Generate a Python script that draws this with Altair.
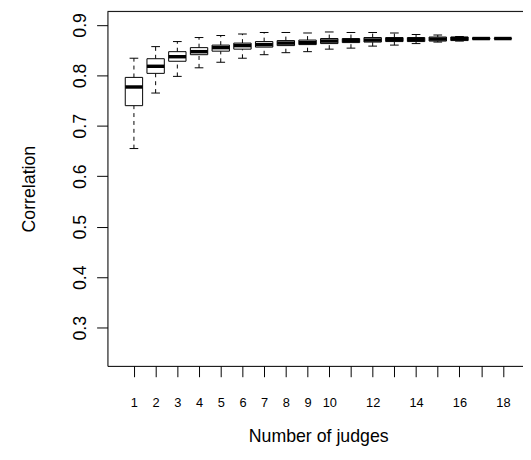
import altair as alt
import pandas as pd

judges = list(range(1, 19))
upper = [0.834, 0.857, 0.867, 0.875, 0.879, 0.882, 0.885, 0.885, 0.884, 0.886,
         0.885, 0.885, 0.884, 0.881, 0.880, 0.877, 0.8745, 0.8735]
q3 = [0.796, 0.833, 0.847, 0.855, 0.860, 0.864, 0.867, 0.869, 0.870, 0.873,
      0.873, 0.875, 0.875, 0.875, 0.876, 0.876, 0.8745, 0.8735]
median = [0.777, 0.818, 0.837, 0.847, 0.855, 0.859, 0.861, 0.864, 0.865, 0.868,
          0.869, 0.870, 0.871, 0.871, 0.872, 0.873, 0.873, 0.873]
q1 = [0.740, 0.804, 0.828, 0.841, 0.848, 0.852, 0.856, 0.859, 0.861, 0.863,
      0.865, 0.866, 0.867, 0.867, 0.868, 0.869, 0.8715, 0.8725]
lower = [0.655, 0.765, 0.798, 0.815, 0.826, 0.834, 0.841, 0.845, 0.847, 0.852,
         0.854, 0.858, 0.860, 0.863, 0.866, 0.868, 0.8715, 0.8725]

x_ticks = list(range(1, 19))
y_ticks = [0.3, 0.4, 0.5, 0.6, 0.7, 0.8, 0.9]

df = pd.DataFrame({"n": judges, "upper": upper, "q3": q3, "median": median,
                   "q1": q1, "lower": lower})
df["box_lo"] = df["n"] - 0.4
df["box_hi"] = df["n"] + 0.4
df["cap_lo"] = df["n"] - 0.2
df["cap_hi"] = df["n"] + 0.2

FONT = "Liberation Sans"
W, H = 422, 360
xscale = alt.Scale(domain=[-0.22, -0.22 + W / 22.04], nice=False, zero=False)
yscale = alt.Scale(domain=[0.2243, 0.9268], nice=False, zero=False)

xaxis = alt.Axis(
    values=x_ticks, tickCount=40, format="d", title="Number of judges", grid=False,
    labelExpr="(datum.value <= 10 || datum.value % 2 == 0) ? datum.label : ''",
    labelOverlap=False,
    tickSize=11, tickColor="black", domainColor="black", tickWidth=1,
    labelFont=FONT, labelFontSize=13, labelColor="black",
    labelPadding=26, labelBaseline="middle", labelFlush=False,
    titleFont=FONT, titleFontSize=18, titleFontWeight="normal", titleColor="black",
    titleX=214, titleY=72, titleBaseline="middle",
)
yaxis = alt.Axis(
    values=y_ticks, tickCount=20, title="Correlation", grid=False, format=".1f",
    labelOverlap=False,
    tickSize=11, tickColor="black", domainColor="black", tickWidth=1,
    labelFont=FONT, labelFontSize=18, labelColor="black",
    labelAngle=270, labelAlign="center", labelBaseline="middle", labelPadding=16,
    titleFont=FONT, titleFontSize=18, titleFontWeight="normal", titleColor="black",
    titleX=-79, titleY=180, titleBaseline="middle", titleAngle=270,
)

base = alt.Chart(df)

whisk_up = base.mark_rule(color="black", strokeWidth=1, strokeDash=[4, 4]).encode(
    x=alt.X("n:Q", scale=xscale, axis=xaxis),
    y=alt.Y("q3:Q", scale=yscale, axis=yaxis),
    y2="upper:Q",
)
whisk_lo = base.mark_rule(color="black", strokeWidth=1, strokeDash=[4, 4]).encode(
    x=alt.X("n:Q", scale=xscale),
    y=alt.Y("lower:Q", scale=yscale),
    y2="q1:Q",
)
cap_up = base.mark_rule(color="black", strokeWidth=1).encode(
    x=alt.X("cap_lo:Q", scale=xscale), x2="cap_hi:Q",
    y=alt.Y("upper:Q", scale=yscale),
)
cap_lo = base.mark_rule(color="black", strokeWidth=1).encode(
    x=alt.X("cap_lo:Q", scale=xscale), x2="cap_hi:Q",
    y=alt.Y("lower:Q", scale=yscale),
)
boxes = base.mark_rect(fill="white", stroke="black", strokeWidth=1).encode(
    x=alt.X("box_lo:Q", scale=xscale), x2="box_hi:Q",
    y=alt.Y("q1:Q", scale=yscale), y2="q3:Q",
)
med = base.mark_rule(color="black", strokeWidth=3.5).encode(
    x=alt.X("box_lo:Q", scale=xscale), x2="box_hi:Q",
    y=alt.Y("median:Q", scale=yscale),
)
top = alt.Chart(pd.DataFrame({"a": [0]})).mark_rule(color="black", strokeWidth=1).encode(
    x=alt.value(0), x2=alt.value(W + 5), y=alt.value(0)
)

chart = alt.layer(whisk_up, whisk_lo, cap_up, cap_lo, boxes, med, top).properties(
    width=W, height=H,
    autosize=alt.AutoSizeParams(type="none"),
    padding={"left": 101, "top": 0, "right": 0, "bottom": 84},
).configure_view(stroke=None).configure(background="white")

chart.save("out.html", embed_options={"renderer": "svg", "actions": False})
